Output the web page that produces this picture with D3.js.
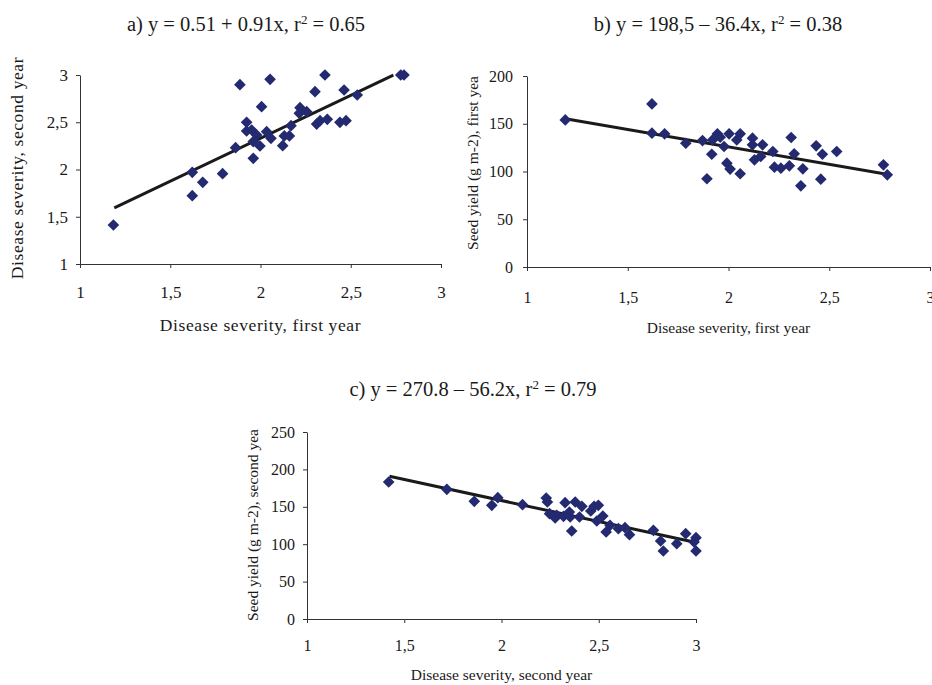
<!DOCTYPE html>
<html>
<head>
<meta charset="utf-8">
<script src="https://cdn.jsdelivr.net/npm/d3@7"></script>
<style>
  body { margin: 0; background: #fff; }
  svg { display: block; }
  text { font-family: "Liberation Serif", "Times New Roman", serif; fill: #1a1a1a; }
  .axis path, .axis line { stroke: #333; stroke-width: 1; }
</style>
</head>
<body>
<div id="chart"></div>
<script>
// panel a: disease severity year 1 vs year 2
var aX = [1.185, 1.622, 1.622, 1.68, 1.79, 1.862, 1.886, 1.923, 1.923, 1.951, 1.96, 1.96, 1.979, 1.997, 2.006, 2.034, 2.053, 2.058, 2.123, 2.132, 2.16, 2.169, 2.219, 2.215, 2.256, 2.302, 2.311, 2.33, 2.357, 2.37, 2.44, 2.463, 2.474, 2.536, 2.777, 2.795]
var aY = [1.413, 1.97, 1.723, 1.864, 1.956, 2.231, 2.898, 2.499, 2.407, 2.418, 2.295, 2.118, 2.365, 2.249, 2.665, 2.4, 2.954, 2.33, 2.252, 2.355, 2.355, 2.464, 2.654, 2.594, 2.612, 2.824, 2.481, 2.517, 3.0, 2.531, 2.499, 2.841, 2.517, 2.788, 3.0, 3.0]
// panel b: disease severity year 1 vs seed yield year 1
var bX = [1.19, 1.62, 1.62, 1.683, 1.788, 1.871, 1.893, 1.917, 1.921, 1.945, 1.959, 1.978, 1.992, 2.003, 2.008, 2.041, 2.058, 2.058, 2.119, 2.119, 2.129, 2.16, 2.169, 2.22, 2.228, 2.26, 2.302, 2.311, 2.326, 2.359, 2.369, 2.435, 2.458, 2.466, 2.537, 2.769, 2.788]
var bY = [154, 170.8, 140.1, 139.4, 129.6, 132.4, 92.4, 118.1, 133.1, 139.4, 135.9, 126.2, 108.7, 139.4, 102.5, 133.1, 139.4, 97.6, 134.9, 127.9, 112.2, 115.7, 127.9, 120.9, 104.5, 103.5, 105.9, 135.6, 118.5, 85, 102.8, 126.9, 92, 118.1, 120.9, 107, 96.5]
// panel c: disease severity year 2 vs seed yield year 2
var cX = [1.42, 1.719, 1.86, 1.95, 1.981, 2.108, 2.23, 2.236, 2.247, 2.276, 2.284, 2.319, 2.327, 2.349, 2.353, 2.361, 2.379, 2.401, 2.413, 2.459, 2.476, 2.498, 2.49, 2.521, 2.538, 2.558, 2.601, 2.635, 2.658, 2.781, 2.818, 2.832, 2.901, 2.947, 3.0, 3.0, 2.99]
var cY = [183.2, 173.4, 157.3, 152, 162.2, 152.9, 161.8, 156.4, 140.8, 135, 138.6, 137.3, 155.5, 143, 136.4, 117.6, 156.4, 136.4, 150.6, 144.4, 150.6, 152, 131, 137.7, 116.3, 125.2, 120.8, 122.1, 112.7, 118.5, 104.3, 90.9, 100.7, 114.1, 108.7, 90.9, 103]

var xTicks = [1, 1.5, 2, 2.5, 3]
var aYTicks = [1, 1.5, 2, 2.5, 3]
var bYTicks = [0, 50, 100, 150, 200]
var cYTicks = [0, 50, 100, 150, 200, 250]

// regression: intercept, slope, x range
var aFit = [0.51, 0.91, 1.19, 2.736]
var bFit = [198.5, -36.4, 1.198, 2.793]
var cFit = [270.8, -56.2, 1.424, 3.0]

var svg = d3.select('#chart').append('svg')
  .attr('width', 932)
  .attr('height', 685)

var comma = d => String(d).replace('.', ',')

function panel(opt) {
  var x = d3.scaleLinear().domain([1, 3]).range([opt.left, opt.right])
  var y = d3.scaleLinear().domain(opt.yDomain).range([opt.bottom, opt.top])

  svg.append('g')
    .attr('class', 'axis')
    .attr('transform', 'translate(0,' + opt.bottom + ')')
    .call(d3.axisBottom(x).tickValues(xTicks).tickFormat(comma).tickSize(4).tickSizeOuter(0).tickPadding(opt.xPad))
    .call(g => g.selectAll('text').style('font-size', opt.tickFont + 'px'))

  svg.append('g')
    .attr('class', 'axis')
    .attr('transform', 'translate(' + opt.left + ',0)')
    .call(d3.axisLeft(y).tickValues(opt.yTicks).tickFormat(comma).tickSize(4).tickSizeOuter(0).tickPadding(opt.yPad))
    .call(g => g.selectAll('text').style('font-size', opt.tickFont + 'px'))

  svg.selectAll('.axis text').attr('fill', '#1a1a1a')

  // trend line
  var fit = opt.fit
  svg.append('line')
    .attr('x1', x(fit[2])).attr('y1', y(fit[0] + fit[1] * fit[2]))
    .attr('x2', x(fit[3])).attr('y2', y(fit[0] + fit[1] * fit[3]))
    .attr('stroke', '#1a1a1a')
    .attr('stroke-width', 3)

  var sym = d3.symbol().type(d3.symbolSquare).size(68)
  svg.append('g').selectAll('path')
    .data(opt.xs)
    .enter().append('path')
    .attr('d', sym)
    .attr('transform', (d, i) => 'translate(' + x(d) + ',' + y(opt.ys[i]) + ') rotate(45)')
    .attr('fill', '#232a70')

  // title
  var t = svg.append('text')
    .attr('x', opt.titleX).attr('y', opt.titleY)
    .attr('text-anchor', 'middle')
    .style('font-size', '20.5px')
  t.append('tspan').text(opt.title[0])
  t.append('tspan').attr('dy', -7).style('font-size', '13px').text('2')
  t.append('tspan').attr('dy', 7).text(opt.title[1])

  svg.append('text')
    .attr('x', (opt.left + opt.right) / 2).attr('y', opt.xLabelY)
    .attr('text-anchor', 'middle')
    .style('font-size', opt.labelFont + 'px')
    .style('letter-spacing', opt.spacing + 'px')
    .text(opt.xLabel)

  svg.append('text')
    .attr('transform', 'translate(' + opt.yLabelX + ',' + opt.yLabelMid + ') rotate(-90)')
    .attr('text-anchor', 'middle')
    .style('font-size', opt.labelFont + 'px')
    .style('letter-spacing', opt.spacing + 'px')
    .text(opt.yLabel)
}

panel({
  left: 80, right: 441, top: 75, bottom: 264, yDomain: [1, 3], yTicks: aYTicks,
  xs: aX, ys: aY, fit: aFit, tickFont: 17, labelFont: 17.5, spacing: 0.6, xPad: 18, yPad: 8,
  title: ['a) y = 0.51 + 0.91x, r', ' = 0.65'], titleX: 246, titleY: 31,
  xLabel: 'Disease severity, first year', xLabelY: 331,
  yLabel: 'Disease severity, second year', yLabelX: 23, yLabelMid: 168
})

panel({
  left: 527, right: 930, top: 76, bottom: 267, yDomain: [0, 200], yTicks: bYTicks,
  xs: bX, ys: bY, fit: bFit, tickFont: 16, labelFont: 15.5, spacing: 0, xPad: 21, yPad: 10,
  title: ['b) y = 198,5 \u2013 36.4x, r', ' = 0.38'], titleX: 718, titleY: 31,
  xLabel: 'Disease severity, first year', xLabelY: 333,
  yLabel: 'Seed yield (g m-2), first yea', yLabelX: 478, yLabelMid: 163
})

panel({
  left: 307, right: 696, top: 432, bottom: 619, yDomain: [0, 250], yTicks: cYTicks,
  xs: cX, ys: cY, fit: cFit, tickFont: 16, labelFont: 15.5, spacing: 0, xPad: 17, yPad: 8,
  title: ['c) y = 270.8 \u2013 56.2x, r', ' = 0.79'], titleX: 473, titleY: 396,
  xLabel: 'Disease severity, second year', xLabelY: 680,
  yLabel: 'Seed yield (g m-2), second yea', yLabelX: 258, yLabelMid: 525
})
</script>
</body>
</html>
